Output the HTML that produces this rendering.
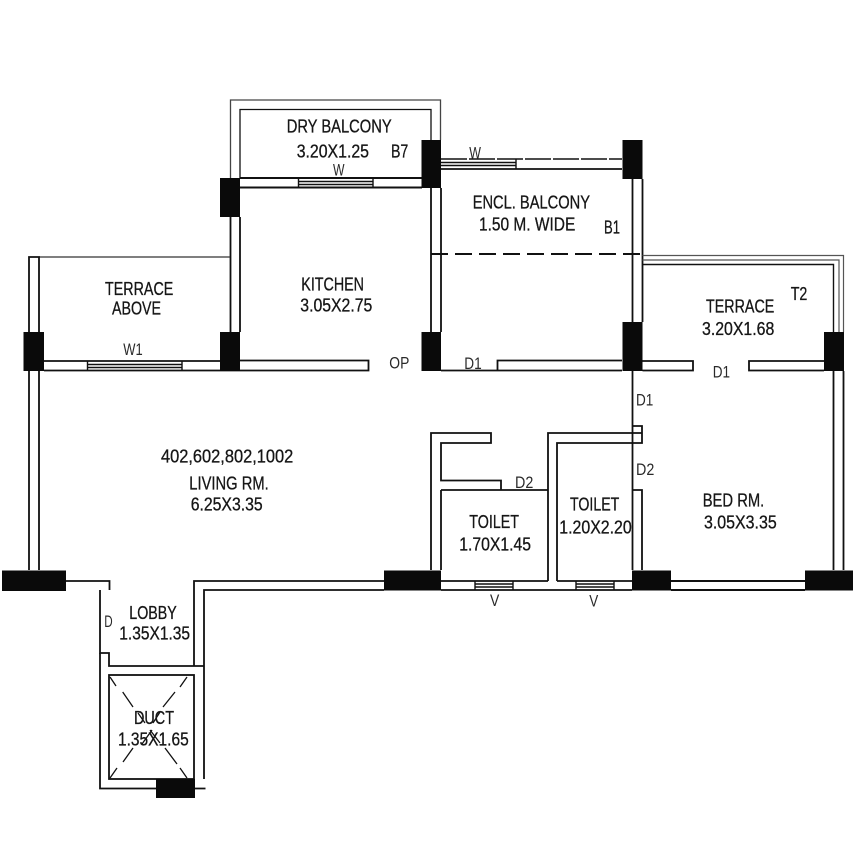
<!DOCTYPE html>
<html><head><meta charset="utf-8"><style>
html,body{margin:0;padding:0;background:#fff}
svg{display:block}
text{font-family:"Liberation Sans",sans-serif;fill:#161616;font-size:18.5px;stroke:#161616;stroke-width:.3px}
.s{font-size:17px;fill:#2a2a2a;stroke:none}
</style></head><body>
<svg width="867" height="867" viewBox="0 0 867 867" xmlns="http://www.w3.org/2000/svg">
<rect width="867" height="867" fill="#fff"/>
<g fill="none" stroke="#111" stroke-width="1.8">
<!-- dry balcony -->
<path d="M230.5 178V100H440.5V140" stroke="#444" stroke-width="1.3"/>
<path d="M240 178V109.5H431V140" stroke-width="1.3"/>
<path d="M240 178H422M240 187.5H422" stroke-width="2"/>
<path d="M298.5 178V187.5M373 178V187.5M298.5 181.5H373M298.5 184.5H373" stroke-width="1.4"/>
<!-- kitchen -->
<path d="M230.5 217V332M240 217V332"/>
<path d="M431 188V332M441 188V332"/>
<path d="M240 360.5H368.5V370.5H240"/>
<!-- encl balcony -->
<path d="M441 159H622" stroke-dasharray="26 2" stroke-width="1.5"/>
<path d="M441 169H622" stroke-width="1.8"/>
<path d="M516 159.500V169M441 162.500H516M441 165.500H516" stroke-width="1.4"/>
<path d="M632.500 179V322M642.500 179V322"/>
<path d="M431 254H642.500" stroke-width="2" stroke-dasharray="17 7"/>
<path d="M441 370.500H622M497.500 370.500V360.500H622"/>
<!-- terrace T2 -->
<path d="M642.500 255.500H843.500V332" stroke="#555" stroke-width="1.2"/>
<path d="M642.500 260H839V332" stroke="#555" stroke-width="1.2"/>
<path d="M642.500 264.500H833.500V332" stroke-width="1.4"/>
<path d="M642.500 361H693V370.500H642.500M824 361H749V370.500H824"/>
<!-- terrace above -->
<path d="M39 257H230" stroke-width="1.2" stroke="#333"/>
<path d="M39 332V257H29V332"/>
<path d="M44 361H220M44 370.500H220" stroke-width="1.8"/>
<path d="M87.500 361V370.500M182 361V370.500M87.500 364.500H182M87.500 367.500H182" stroke-width="1.4"/>
<path d="M29 371V570M39 371V570"/>
<path d="M220 370.500H240"/>
<!-- right -->
<path d="M833.500 371V570M843.500 371V570"/>
<path d="M671 581H805M671 590H805" stroke-width="2"/>
<!-- central toilets -->
<path d="M632.500 371V570"/>
<path d="M632.500 426H642V443H557V581M642 433H548V581"/>
<path d="M632.500 490H642V570"/>
<path d="M431 570V433H491V443H441V480.500H501V490M441 490H548M441 490V570"/>
<path d="M441 581H548M557 581H632M441 590H632" stroke-width="1.8"/>
<path d="M475 581V590M513 581V590M475 584H513M475 587H513M576 581V590M614 581V590M576 584H614M576 587H614" stroke-width="1.4"/>
<!-- lobby -->
<path d="M66 581H109.500V590M100 590V653H109V666H204"/>
<path d="M194 666V581H384M384 590H204V779"/>
<path d="M100 653V788.500H156M195 788.500H205.500"/>
<rect x="109" y="675" width="85" height="104"/>
<path d="M110 677L116 686M122.700 692L133 707M138 713L145 723M150 730L160 743M165 748L177 764M180 768L187 778M187 677L180 687M175 692L163 707M160 712L153 723M152 730L142 744M133 748L123 762M117 768L110 778" stroke-width="1.3"/>
</g>
<g fill="#0a0a0a">
<rect x="220" y="178" width="20" height="39"/>
<rect x="421.500" y="140" width="19.500" height="48"/>
<rect x="622.500" y="140" width="20" height="39"/>
<rect x="23.500" y="332" width="20.500" height="39"/>
<rect x="220" y="332" width="20" height="39"/>
<rect x="421.500" y="332" width="19.500" height="39"/>
<rect x="622.500" y="322" width="20" height="49"/>
<rect x="824" y="332" width="20" height="39"/>
<rect x="2" y="570.500" width="64" height="20.500"/>
<rect x="384" y="570.500" width="57" height="20"/>
<rect x="632" y="570.500" width="39" height="20"/>
<rect x="805" y="570.500" width="48" height="20"/>
<rect x="156" y="779" width="39" height="19"/>
</g>
<g>
<text x="286.700" y="132.300" textLength="105" lengthAdjust="spacingAndGlyphs">DRY BALCONY</text>
<text x="296.700" y="157.700" textLength="72.300" lengthAdjust="spacingAndGlyphs">3.20X1.25</text>
<text x="391" y="157.700" textLength="17.300" lengthAdjust="spacingAndGlyphs">B7</text>
<text class="s" x="333" y="175.700" textLength="11.500" lengthAdjust="spacingAndGlyphs">W</text>
<text x="301.300" y="290.700" textLength="62.700" lengthAdjust="spacingAndGlyphs">KITCHEN</text>
<text x="300.300" y="311.700" textLength="72" lengthAdjust="spacingAndGlyphs">3.05X2.75</text>
<text class="s" x="389.300" y="368.700" textLength="20" lengthAdjust="spacingAndGlyphs">OP</text>
<text class="s" x="469.300" y="158.300" textLength="11.700" lengthAdjust="spacingAndGlyphs">W</text>
<text x="472.700" y="208.700" textLength="117.300" lengthAdjust="spacingAndGlyphs">ENCL. BALCONY</text>
<text x="479" y="230.700" textLength="96.300" lengthAdjust="spacingAndGlyphs">1.50 M. WIDE</text>
<text x="604" y="233.300" textLength="16" lengthAdjust="spacingAndGlyphs">B1</text>
<text class="s" x="464.300" y="369" textLength="17.400" lengthAdjust="spacingAndGlyphs">D1</text>
<text x="706" y="312.700" textLength="68.300" lengthAdjust="spacingAndGlyphs">TERRACE</text>
<text x="702" y="335" textLength="72.300" lengthAdjust="spacingAndGlyphs">3.20X1.68</text>
<text x="790.700" y="300" textLength="16.600" lengthAdjust="spacingAndGlyphs">T2</text>
<text class="s" x="712.700" y="377.700" textLength="17.300" lengthAdjust="spacingAndGlyphs">D1</text>
<text class="s" x="636" y="405.300" textLength="17.300" lengthAdjust="spacingAndGlyphs">D1</text>
<text class="s" x="636" y="475" textLength="18.300" lengthAdjust="spacingAndGlyphs">D2</text>
<text class="s" x="515" y="488" textLength="18.300" lengthAdjust="spacingAndGlyphs">D2</text>
<text x="469.300" y="528" textLength="49.700" lengthAdjust="spacingAndGlyphs">TOILET</text>
<text x="459.300" y="550.700" textLength="71.700" lengthAdjust="spacingAndGlyphs">1.70X1.45</text>
<text x="570" y="510.700" textLength="49.300" lengthAdjust="spacingAndGlyphs">TOILET</text>
<text x="559.300" y="533.300" textLength="72.400" lengthAdjust="spacingAndGlyphs">1.20X2.20</text>
<text class="s" x="490" y="606" textLength="9.300" lengthAdjust="spacingAndGlyphs">V</text>
<text class="s" x="589.300" y="606.700" textLength="9" lengthAdjust="spacingAndGlyphs">V</text>
<text x="129.300" y="619" textLength="47.400" lengthAdjust="spacingAndGlyphs">LOBBY</text>
<text x="119.300" y="639.700" textLength="70.700" lengthAdjust="spacingAndGlyphs">1.35X1.35</text>
<text class="s" x="104.300" y="627" textLength="8.400" lengthAdjust="spacingAndGlyphs">D</text>
<text x="134" y="724" textLength="40" lengthAdjust="spacingAndGlyphs">DUCT</text>
<text x="118" y="745.300" textLength="70.700" lengthAdjust="spacingAndGlyphs">1.35X1.65</text>
<text x="105" y="295" textLength="68.300" lengthAdjust="spacingAndGlyphs">TERRACE</text>
<text x="112" y="314.300" textLength="49" lengthAdjust="spacingAndGlyphs">ABOVE</text>
<text class="s" x="123.300" y="355" textLength="19.400" lengthAdjust="spacingAndGlyphs">W1</text>
<text x="702.700" y="506.700" textLength="61.600" lengthAdjust="spacingAndGlyphs">BED RM.</text>
<text x="704" y="528.300" textLength="72.700" lengthAdjust="spacingAndGlyphs">3.05X3.35</text>
<text x="161" y="462.700" textLength="132.300" lengthAdjust="spacingAndGlyphs">402,602,802,1002</text>
<text x="189.300" y="489.300" textLength="79.400" lengthAdjust="spacingAndGlyphs">LIVING RM.</text>
<text x="190.700" y="510.700" textLength="72" lengthAdjust="spacingAndGlyphs">6.25X3.35</text>
</g>
</svg>
</body></html>
